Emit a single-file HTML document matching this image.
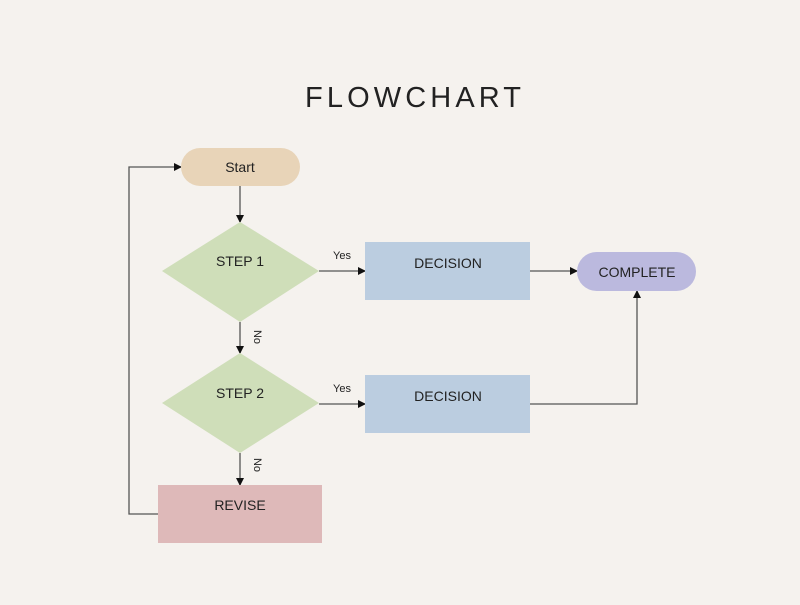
<!DOCTYPE html>
<html><head><style>html,body{margin:0;padding:0;background:#f5f2ee}</style></head>
<body>
<svg width="800" height="600" xmlns="http://www.w3.org/2000/svg" font-family="Liberation Sans, sans-serif">
<rect width="800" height="600" fill="#f5f2ee"/>
<defs><marker id="a" markerWidth="8" markerHeight="8" refX="7" refY="4" orient="auto" markerUnits="userSpaceOnUse"><path d="M0,0 L8,4 L0,8 z" fill="#111"/></marker></defs>
<text x="305" y="107" font-size="29" fill="#222" textLength="216" lengthAdjust="spacing">FLOWCHART</text>
<g stroke="#555" stroke-width="1.3" fill="none">
<line x1="240" y1="186" x2="240" y2="222" marker-end="url(#a)"/>
<line x1="319" y1="271" x2="365" y2="271" marker-end="url(#a)"/>
<line x1="240" y1="322" x2="240" y2="353" marker-end="url(#a)"/>
<line x1="319" y1="404" x2="365" y2="404" marker-end="url(#a)"/>
<line x1="240" y1="453" x2="240" y2="485" marker-end="url(#a)"/>
<line x1="530" y1="271" x2="577" y2="271" marker-end="url(#a)"/>
<polyline points="530,404 637,404 637,291" marker-end="url(#a)"/>
<polyline points="158,514 129,514 129,167 181,167" marker-end="url(#a)"/>
</g>
<rect x="181" y="148" width="119" height="38" rx="19" fill="#e8d4b8"/>
<polygon points="240,222 319,271 240,322 162,271" fill="#cfdeb9"/>
<polygon points="240,353 319,403 240,453 162,403" fill="#cfdeb9"/>
<rect x="365" y="242" width="165" height="58" fill="#bbcde0"/>
<rect x="365" y="375" width="165" height="58" fill="#bbcde0"/>
<rect x="158" y="485" width="164" height="58" fill="#deb9b9"/>
<rect x="577" y="252" width="119" height="39" rx="19.5" fill="#bbb9de"/>
<g fill="#222" font-size="14" text-anchor="middle">
<text x="240" y="172">Start</text>
<text x="240" y="266">STEP 1</text>
<text x="240" y="398">STEP 2</text>
<text x="448" y="268">DECISION</text>
<text x="448" y="401">DECISION</text>
<text x="240" y="510">REVISE</text>
<text x="637" y="277">COMPLETE</text>
<text x="342" y="259" font-size="11">Yes</text>
<text x="342" y="392" font-size="11">Yes</text>
<text x="0" y="0" font-size="11" transform="translate(254,337) rotate(90)">No</text>
<text x="0" y="0" font-size="11" transform="translate(254,465) rotate(90)">No</text>
</g>
</svg>
</body></html>
